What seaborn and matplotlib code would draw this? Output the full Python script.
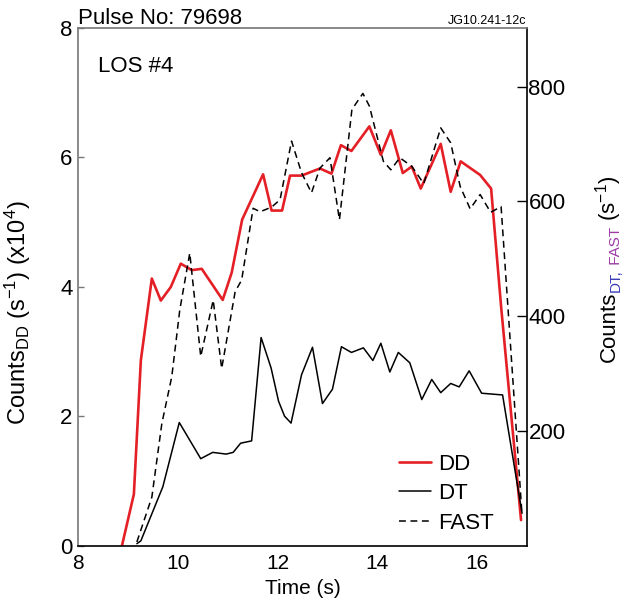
import matplotlib
matplotlib.use("Agg")
import matplotlib.pyplot as plt
import pandas as pd
import seaborn as sns

# DD neutron counts, left axis (x10^4 s^-1)
T_DD = [8.88, 9.12, 9.26, 9.48, 9.66, 9.86, 10.06, 10.28, 10.48, 10.90, 11.08, 11.29,
        11.71, 11.88, 12.09, 12.25, 12.48, 12.85, 13.08, 13.27, 13.48, 13.84, 14.07,
        14.27, 14.51, 14.69, 14.87, 15.27, 15.47, 15.67, 16.06, 16.28, 16.48, 16.88]
DD = [0.0, 0.80, 2.87, 4.13, 3.79, 4.00, 4.36, 4.26, 4.28, 3.80, 4.22, 5.04,
      5.74, 5.18, 5.18, 5.72, 5.72, 5.83, 5.75, 6.19, 6.10, 6.48, 6.04,
      6.42, 5.76, 5.86, 5.52, 6.21, 5.47, 5.94, 5.73, 5.52, 3.70, 0.40]

# DT counts, right axis (s^-1)
T_DT = [9.18, 9.26, 9.70, 10.03, 10.46, 10.70, 10.97, 11.11, 11.26, 11.48, 11.67, 11.87,
        12.02, 12.14, 12.27, 12.48, 12.70, 12.90, 13.10, 13.28, 13.48, 13.72, 13.91,
        14.07, 14.25, 14.42, 14.65, 14.89, 15.09, 15.27, 15.47, 15.64, 15.84, 16.09,
        16.51, 16.90]
DT = [4, 9, 103, 215, 152, 163, 160, 163, 179, 183, 363, 310,
      252, 226, 214, 298, 346, 248, 273, 347, 337, 345, 323,
      353, 303, 337, 319, 255, 290, 267, 283, 277, 305, 266,
      263, 57]

# FAST counts, right axis (s^-1)
T_FAST = [9.18, 9.48, 9.68, 9.88, 10.04, 10.24, 10.46, 10.71, 10.88, 11.15, 11.28, 11.51,
          11.65, 11.88, 12.05, 12.28, 12.48, 12.68, 12.85, 13.05, 13.24, 13.49, 13.71,
          13.84, 14.12, 14.27, 14.45, 14.69, 14.93, 15.27, 15.47, 15.66, 15.86, 16.06,
          16.27, 16.48, 16.90]
FAST = [7, 85, 213, 295, 411, 510, 330, 428, 309, 443, 463, 588,
        582, 590, 603, 705, 650, 615, 658, 676, 568, 760, 788,
        766, 670, 655, 676, 661, 631, 728, 702, 626, 587, 612,
        581, 591, 54]

X_TICKS = [8, 10, 12, 14, 16]
LEFT_TICKS = [0, 2, 4, 6, 8]
RIGHT_TICKS = [200, 400, 600, 800]

RED = "#e41f26"
FONT = ["Liberation Sans", "DejaVu Sans"]


def main() -> None:
    sns.set_style("white")
    plt.rcParams["font.family"] = FONT
    plt.rcParams["mathtext.fontset"] = "custom"
    plt.rcParams["mathtext.rm"] = "Liberation Sans"
    plt.rcParams["mathtext.it"] = "Liberation Sans:italic"
    for key in ("text.color", "axes.labelcolor", "xtick.color", "ytick.color"):
        plt.rcParams[key] = "black"

    dd = pd.DataFrame({"time": T_DD, "value": DD})
    dt = pd.DataFrame({"time": T_DT, "value": DT})
    fast = pd.DataFrame({"time": T_FAST, "value": FAST})

    fig = plt.figure(figsize=(6.24, 6.08), dpi=100)
    ax = fig.add_axes([0.125, 0.102, 0.7196, 0.852])
    ax2 = ax.twinx()

    sns.lineplot(data=fast, x="time", y="value", ax=ax2, color="black", linewidth=1.1,
                 sort=False, estimator=None, label="FAST")
    ax2.lines[-1].set_dashes((4.5, 3.0))
    sns.lineplot(data=dt, x="time", y="value", ax=ax2, color="black", linewidth=1.1,
                 sort=False, estimator=None, label="DT")
    sns.lineplot(data=dd, x="time", y="value", ax=ax, color=RED, linewidth=1.9,
                 sort=False, estimator=None, label="DD")

    ax.set_xlim(8, 17)
    ax.set_ylim(0, 8)
    ax2.set_ylim(0, 902)
    ax.set_xticks(X_TICKS)
    ax.set_yticks(LEFT_TICKS)
    ax2.set_yticks(RIGHT_TICKS)

    ax.tick_params(axis="x", direction="in", length=7.5, width=1, labelsize=15, pad=6)
    ax.tick_params(axis="y", direction="in", length=4, width=1, labelsize=16, pad=4,
                   color="#777777", labelcolor="black")
    ax2.tick_params(axis="y", direction="in", length=7.5, width=1, labelsize=16, pad=1)

    for name, sp in ax2.spines.items():
        sp.set_linewidth(1.2)
        sp.set_color("#777777" if name in ("left", "top") else "black")
    for sp in ax.spines.values():
        sp.set_visible(False)

    ax.set_xlabel("Time (s)", fontsize=15, labelpad=4)
    ax.set_ylabel(r"Counts$_{\mathrm{DD}}$ (s$^{-1}$) (x10$^{4}$)", fontsize=17)
    ax.yaxis.set_label_coords(-0.10, 0.45)
    ax2.set_ylabel("")

    ax.get_legend().remove()
    ax2.get_legend().remove()
    h1, l1 = ax.get_legend_handles_labels()
    h2, l2 = ax2.get_legend_handles_labels()
    handles = h1 + h2[::-1]
    labels = l1 + l2[::-1]
    ax2.legend(handles, labels, loc="upper left", bbox_to_anchor=(0.715, 0.178),
               frameon=False, fontsize=16, handlelength=1.45, handletextpad=0.3,
               labelspacing=0.38, borderpad=0, borderaxespad=0)

    fig.text(78 / 624, 1 - 24 / 608, "Pulse No: 79698", fontsize=16, ha="left", va="baseline")
    fig.text(526 / 624, 1 - 24 / 608, "JG10.241-12c", fontsize=9, ha="right", va="baseline")
    ax.text(0.044, 0.925, "LOS #4", transform=ax.transAxes, fontsize=16, ha="left",
            va="center")

    # right axis label with coloured subscript
    renderer = fig.canvas.get_renderer()
    pieces = [
        ("Counts", "black", 16, 0),
        ("DT,", "#3b3bb8", 11, 5),
        (" FAST", "#9c3ca6", 11, 5),
        (r" (s$^{-1}$)", "black", 16, 0),
    ]
    y = 608 - 362
    x0 = 615
    for text, color, size, shift in pieces:
        t = fig.text(x0 + shift, y, text, color=color, fontsize=size, rotation=90,
                     rotation_mode="anchor", ha="left", va="baseline", transform=None)
        bb = t.get_window_extent(renderer)
        y += bb.height

    fig.savefig("out.png", dpi=100)
    plt.close(fig)


if __name__ == "__main__":
    main()
